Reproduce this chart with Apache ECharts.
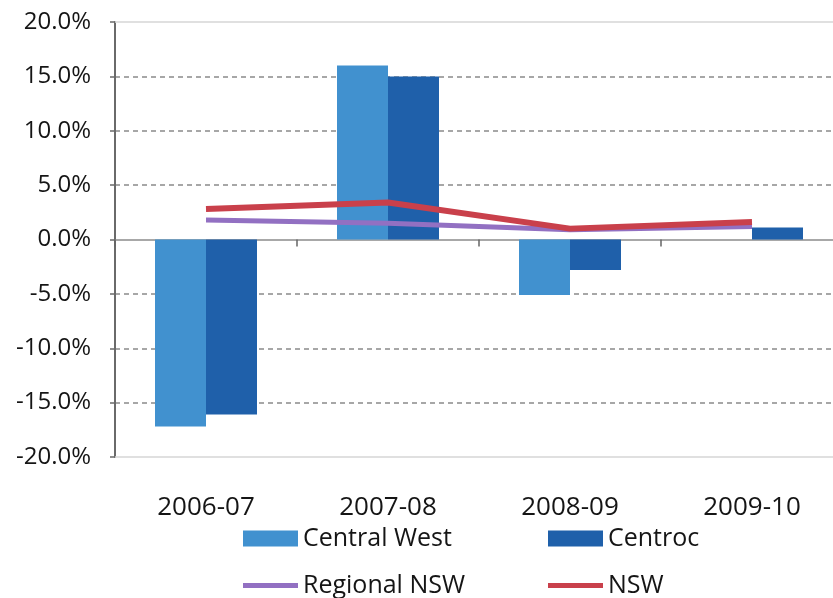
<!DOCTYPE html>
<html>
<head>
<meta charset="utf-8">
<script src="https://cdn.jsdelivr.net/npm/echarts@6/dist/echarts.min.js"></script>
<style>
  html, body { margin: 0; padding: 0; background: #ffffff; }
  #chart { width: 833px; height: 598px; }
</style>
</head>
<body>
<div id="chart"></div>
<script>
// Annual change by region (%)
const years = ['2006-07', '2007-08', '2008-09', '2009-10'];
const centralWest = [-17.2, 16.0, -5.1, 0];
const centroc = [-16.1, 15.0, -2.8, 1.1];
const regionalNsw = [1.8, 1.5, 0.9, 1.2];
const nsw = [2.8, 3.4, 1.0, 1.6];
const yTicks = [-20, -15, -10, -5, 0, 5, 10, 15, 20];

const FONT = 'Open Sans';
const TEXT = '#151515';
const C_CW = '#4191cf';
const C_CENTROC = '#1f60aa';
const C_REG = '#9270c2';
const C_NSW = '#c9404b';

// dashed grid lines on interior ticks only; edges and zero are drawn separately
const gridColors = yTicks.map(v => (Math.abs(v) === 20 || v === 0) ? 'rgba(0,0,0,0)' : '#8a8a8a');

const chart = echarts.init(document.getElementById('chart'), null, { renderer: 'canvas' });

function legendItem(name, left, top, h) {
  return {
    data: [{ name: name, icon: 'rect' }],
    left: left, top: top,
    padding: 0,
    itemWidth: 55, itemHeight: h,
    textStyle: { fontFamily: FONT, fontSize: 25, color: TEXT },
    selectedMode: false
  };
}

chart.setOption({
  animation: false,
  backgroundColor: '#ffffff',
  grid: { left: 115, top: 22, width: 728, height: 435, outerBoundsMode: 'none', containLabel: false },
  legend: [
    legendItem('Central West', 243, 526, 16),
    legendItem('Centroc', 548, 526, 16),
    legendItem('Regional NSW', 243, 573, 5),
    legendItem('NSW', 548, 573, 5)
  ],
  xAxis: [
    {
      // category labels along the bottom of the plot
      type: 'category',
      data: years,
      position: 'bottom',
      axisLine: { show: false, onZero: false },
      axisTick: { show: false },
      axisLabel: { margin: 38, fontFamily: FONT, fontSize: 26, color: TEXT },
      splitLine: { show: false }
    },
    {
      // zero line with boundary ticks
      type: 'category',
      data: years,
      position: 'top',
      axisLine: { onZero: true, lineStyle: { color: '#8c8c8c', width: 1.5 } },
      axisTick: { show: true, inside: true, length: 7, lineStyle: { color: '#666', width: 1.5 } },
      axisLabel: { show: false },
      splitLine: { show: false }
    }
  ],
  yAxis: {
    type: 'value',
    min: -20, max: 20, interval: 5,
    axisLine: { show: true, lineStyle: { color: '#6a6a6a', width: 2 } },
    axisTick: { show: true, length: 5, lineStyle: { color: '#6a6a6a', width: 1.5 } },
    axisLabel: {
      margin: 24, fontFamily: FONT, fontSize: 24, color: TEXT,
      formatter: v => v.toFixed(1) + '%'
    },
    splitLine: { show: true, lineStyle: { color: gridColors, type: [5, 4], width: 1.5 } }
  },
  series: [
    {
      name: 'Central West', type: 'bar', data: centralWest,
      xAxisIndex: 0,
      barWidth: 51, barGap: '0%',
      itemStyle: { color: C_CW },
      markLine: {
        silent: true, symbol: 'none', label: { show: false },
        lineStyle: { color: '#d6d6d6', type: 'solid', width: 1.5 },
        data: [{ yAxis: 20 }, { yAxis: -20 }]
      }
    },
    {
      name: 'Centroc', type: 'bar', data: centroc,
      xAxisIndex: 0,
      barWidth: 51,
      itemStyle: { color: C_CENTROC }
    },
    {
      name: 'Regional NSW', type: 'line', data: regionalNsw,
      xAxisIndex: 0,
      symbol: 'none',
      lineStyle: { color: C_REG, width: 5 },
      itemStyle: { color: C_REG },
      z: 3
    },
    {
      name: 'NSW', type: 'line', data: nsw,
      xAxisIndex: 0,
      symbol: 'none',
      lineStyle: { color: C_NSW, width: 6 },
      itemStyle: { color: C_NSW },
      z: 4
    }
  ]
});
</script>
</body>
</html>
